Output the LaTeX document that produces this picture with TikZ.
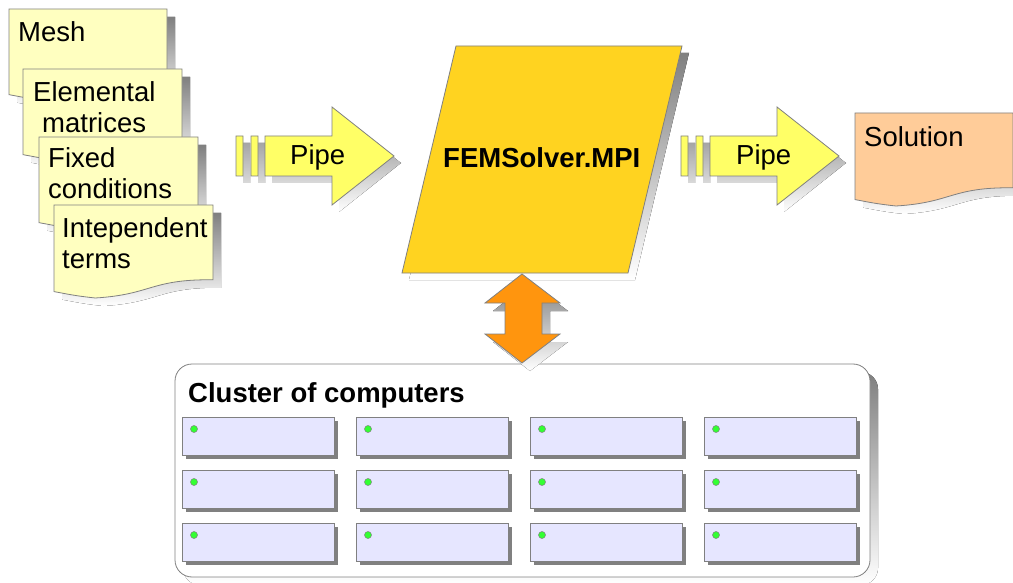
\documentclass[tikz,border=0pt]{standalone}
\usepackage{fontspec}
\setmainfont{Liberation Sans}
\definecolor{docfill}{HTML}{FFFFC0}
\definecolor{pipefill}{HTML}{FFFF66}
\definecolor{solverfill}{HTML}{FFD320}
\definecolor{solfill}{HTML}{FFCC99}
\definecolor{orangefill}{HTML}{FF950E}
\definecolor{pcfill}{HTML}{E6E6FF}
\definecolor{ledfill}{HTML}{33FF33}
\definecolor{edge}{HTML}{808080}
\definecolor{shade}{HTML}{C0C0C0}
\definecolor{darkshade}{HTML}{808080}
\tikzset{
  shp/.style={draw=edge, line width=0.8pt},
  shadowshape/.style={fill=shade, draw=none},
  lbl/.style={inner sep=0pt, anchor=base west, font=\fontsize{27.5}{31}\selectfont},
  blbl/.style={lbl, font=\fontsize{27.5}{31}\selectfont\bfseries},
}
% document shape: x y w h
\newcommand\docpath[4]{(#1,#2) -- ({#1+#3},#2) -- ({#1+#3},{#2+0.804*#4})
  .. controls ({#1+0.604*#3},{#2+0.797*#4}) and ({#1+0.618*#3},{#2+0.962*#4}) .. ({#1+0.26*#3},{#2+#4})
  .. controls ({#1+0.132*#3},{#2+0.977*#4}) and ({#1+0.086*#3},{#2+0.958*#4}) .. (#1,{#2+0.931*#4}) -- cycle}
\newcommand\mydoc[5]{%
  \fill[shade] \docpath{#1+8}{#2+8}{#3}{#4};
  \path[shp, fill=#5] \docpath{#1}{#2}{#3}{#4};}
% pipe arrow, offset x
\newcommand\pipepath[2]{(#1+236,#2+136) rectangle (#1+243,#2+176)
  (#1+251,#2+136) rectangle (#1+258,#2+176)
  (#1+265,#2+136) -- (#1+332,#2+136) -- (#1+332,#2+107) -- (#1+394,#2+156) -- (#1+332,#2+205) -- (#1+332,#2+176) -- (#1+265,#2+176) -- cycle}
\newcommand\mypipe[1]{%
  \fill[shade] \pipepath{#1+7}{7};
  \path[shp, fill=pipefill] \pipepath{#1}{0};}
\newcommand\pcpath[2]{(#1,#2) rectangle (#1+152,#2+38)}
\begin{document}
\begin{tikzpicture}[x=1pt,y=-1pt]
\useasboundingbox (0,0) rectangle (1013,583);
\fill[white] (0,0) rectangle (1013,583);

% input documents
\mydoc{9}{9}{158}{92}{docfill}
\mydoc{23}{69}{159}{92}{docfill}
\mydoc{39}{137}{159}{92}{docfill}
\mydoc{54}{205}{159}{93}{docfill}
\node[lbl] (mesh) at (18,42) {Mesh};
\node[lbl] (elem1) at (33,102) {Elemental};
\node[lbl] (elem2) at (42,133) {matrices};
\node[lbl] (fix1) at (48,168) {Fixed};
\node[lbl] (fix2) at (48,199) {conditions};
\node[lbl] (ind1) at (62,237) {Intependent};
\node[lbl] (ind2) at (62,268) {terms};

% pipes
\mypipe{0}
\mypipe{445}
\node[lbl] (pipe1) at (290,165) {Pipe};
\node[lbl] (pipe2) at (736,165) {Pipe};

% solver
\fill[shade] (463,53) -- (689,53) -- (635,280) -- (409,280) -- cycle;
\path[shp, fill=solverfill] (456,46) -- (682,46) -- (628,273) -- (402,273) -- cycle;
\node[blbl] (solver) at (443,168) {FEMSolver.MPI};

% solution
\mydoc{855}{113}{158}{93}{solfill}
\node[lbl] (sol) at (864,147) {Solution};

% cluster
\fill[shade, rounded corners=17pt] (183,372) rectangle (878,585);
\draw[shp, fill=white, rounded corners=17pt] (175,364) rectangle (870,577);
\node[blbl] (cluster) at (188,402) {Cluster of computers};
\foreach \cx [count=\i] in {182,356,530,704}{
  \foreach \cy [count=\j] in {417,470,523}{
    \fill[darkshade] \pcpath{\cx+4}{\cy+4};
    \path[draw=edge, line width=0.8pt, fill=pcfill] \pcpath{\cx}{\cy};
    \path[draw=edge, line width=0.5pt, fill=ledfill] (\cx+12,\cy+12) circle (3.5);
  }
}

% double arrow
\fill[shade] (530,282) -- (568,311) -- (550,311) -- (550,342) -- (568,342) -- (530,371) -- (493,342) -- (513,342) -- (513,311) -- (493,311) -- cycle;
\path[shp, fill=orangefill] (522,274) -- (560,303) -- (542,303) -- (542,334) -- (560,334) -- (522,363) -- (485,334) -- (505,334) -- (505,303) -- (485,303) -- cycle;
\end{tikzpicture}
\end{document}
